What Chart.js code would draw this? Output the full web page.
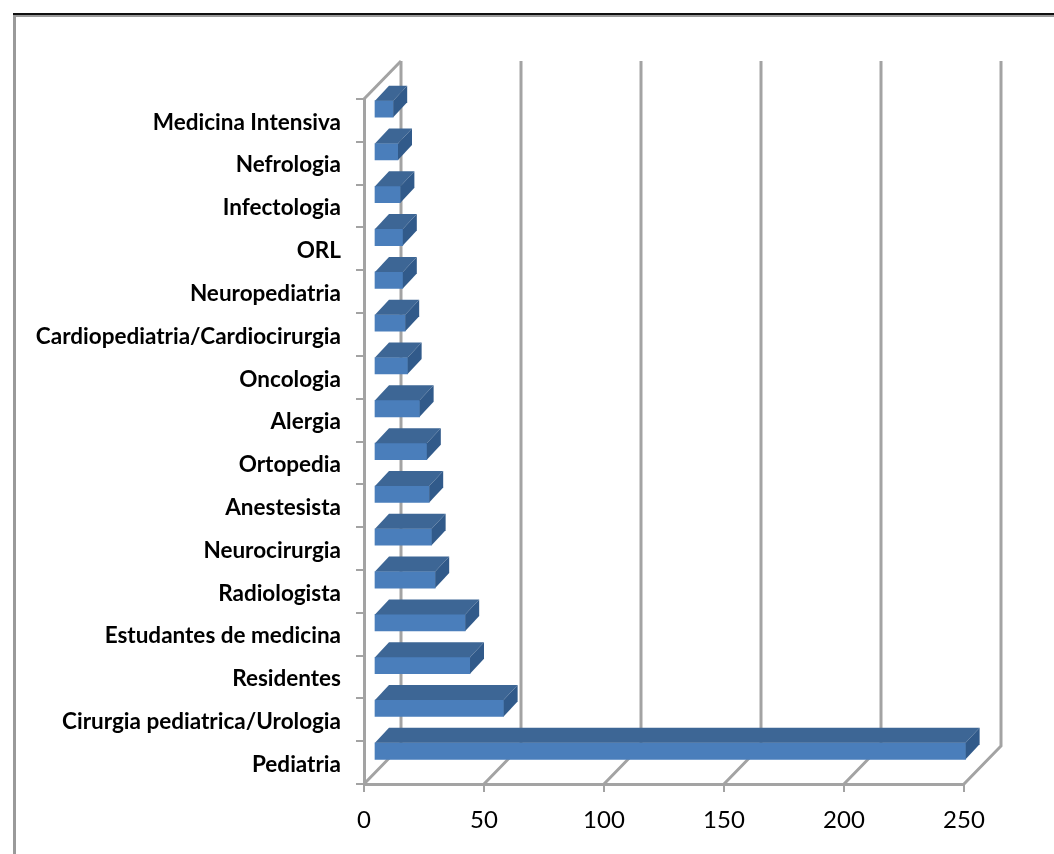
<!DOCTYPE html>
<html>
<head>
<meta charset="utf-8">
<title>Especialidades</title>
<style>
html, body { margin: 0; padding: 0; background: #fff; overflow: hidden; }
canvas { display: block; filter: blur(0.5px); }
</style>
<script src="https://cdn.jsdelivr.net/npm/chart.js@4"></script>
</head>
<body>
<canvas id="chart" width="1054" height="854"></canvas>
<script>
const categories = [
  'Medicina Intensiva', 'Nefrologia', 'Infectologia', 'ORL', 'Neuropediatria',
  'Cardiopediatria/Cardiocirurgia', 'Oncologia', 'Alergia', 'Ortopedia', 'Anestesista',
  'Neurocirurgia', 'Radiologista', 'Estudantes de medicina', 'Residentes',
  'Cirurgia pediatrica/Urologia', 'Pediatria'
];
const values = [8, 10, 11, 12, 12, 13, 14, 19, 22, 23, 24, 25.5, 38, 40, 54, 246.5];
const xTicks = [0, 50, 100, 150, 200, 250];

const GRID = '#a3a3a3';
// profundidade do "3D": parede do fundo e das barras
const WALL = { dx: 37, dy: 38 };
const BAR_SHIFT = { dx: 10, dy: -11.5 };
const BAR_DEPTH = { dx: 14, dy: 15 };

const frame = {
  id: 'frame',
  beforeDraw(chart) {
    const c = chart.ctx;
    c.save();
    c.fillStyle = '#9a9a9a';
    c.fillRect(13, 14, 3, 840);
    c.fillRect(13, 15, 1041, 2);
    c.fillStyle = '#111';
    c.fillRect(13, 13, 1041, 2);
    c.restore();
  }
};

const depth3d = {
  id: 'depth3d',
  beforeDatasetsDraw(chart) {
    const c = chart.ctx;
    const x = chart.scales.x, area = chart.chartArea;
    c.save();
    c.strokeStyle = GRID;
    c.lineWidth = 3;
    xTicks.forEach(v => {
      const px = x.getPixelForValue(v);
      c.beginPath();
      c.moveTo(px, area.bottom);
      c.lineTo(px + WALL.dx, area.bottom - WALL.dy);
      c.lineTo(px + WALL.dx, area.top - WALL.dy);
      c.stroke();
    });
    // aresta de cima da parede esquerda
    const p0 = x.getPixelForValue(0);
    c.beginPath();
    c.moveTo(p0, area.top);
    c.lineTo(p0 + WALL.dx, area.top - WALL.dy);
    c.stroke();
    c.restore();
    c.save();
    c.translate(BAR_SHIFT.dx, BAR_SHIFT.dy);
  },
  afterDatasetsDraw(chart) {
    const c = chart.ctx;
    chart.getDatasetMeta(0).data.forEach(bar => {
      const top = bar.y - bar.height / 2, bottom = bar.y + bar.height / 2;
      c.fillStyle = '#3d6695';
      c.beginPath();
      c.moveTo(bar.base, top);
      c.lineTo(bar.base + BAR_DEPTH.dx, top - BAR_DEPTH.dy);
      c.lineTo(bar.x + BAR_DEPTH.dx, top - BAR_DEPTH.dy);
      c.lineTo(bar.x, top);
      c.closePath();
      c.fill();
      c.fillStyle = '#315a8a';
      c.beginPath();
      c.moveTo(bar.x, top);
      c.lineTo(bar.x + BAR_DEPTH.dx, top - BAR_DEPTH.dy);
      c.lineTo(bar.x + BAR_DEPTH.dx, bottom - BAR_DEPTH.dy);
      c.lineTo(bar.x, bottom);
      c.closePath();
      c.fill();
    });
    c.restore();
  }
};

new Chart(document.getElementById('chart'), {
  type: 'bar',
  data: {
    labels: categories,
    datasets: [{
      data: values,
      backgroundColor: '#4a7ebb',
      barThickness: 16.5,
      borderSkipped: false,
      borderWidth: 0
    }]
  },
  plugins: [frame, depth3d],
  options: {
    indexAxis: 'y',
    responsive: false,
    animation: false,
    layout: { padding: { top: 99, right: 90, left: 0, bottom: 0 } },
    plugins: { legend: { display: false }, tooltip: { enabled: false } },
    scales: {
      x: {
        min: 0,
        max: 250,
        afterFit(s) { s.height = 70; },
        afterBuildTicks(s) { s.ticks = xTicks.map(v => ({ value: v })); },
        border: { display: true, color: GRID, width: 3 },
        grid: { drawOnChartArea: false, drawTicks: true, tickLength: 8, color: GRID, lineWidth: 2 },
        ticks: { color: '#000', padding: 14, maxRotation: 0, font: { family: 'Lato', size: 24 } }
      },
      y: {
        afterFit(s) { s.width = 364; },
        border: { display: true, color: GRID, width: 3 },
        grid: { drawOnChartArea: false, drawTicks: true, tickLength: 8, color: GRID, lineWidth: 2 },
        ticks: { color: '#000', padding: 15, labelOffset: 2, autoSkip: false, font: { family: 'Lato', size: 22.5, weight: 'bold' } }
      }
    }
  }
});
</script>
</body>
</html>
